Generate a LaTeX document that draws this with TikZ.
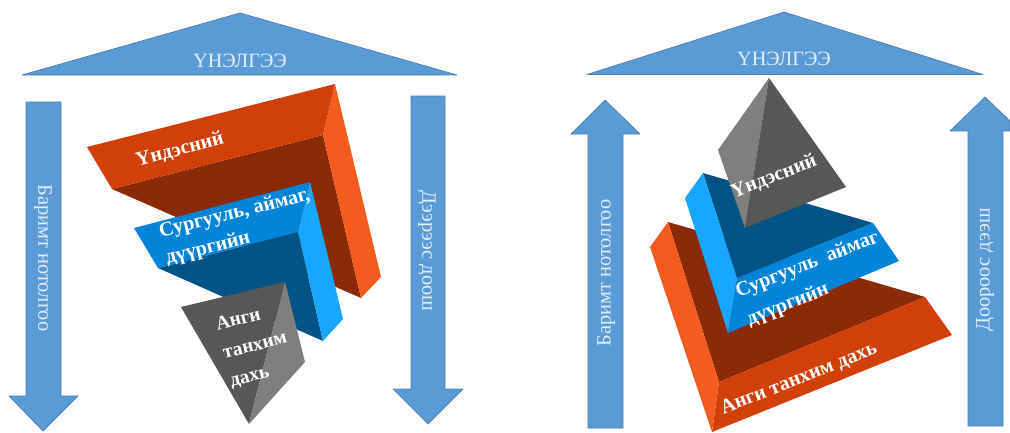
\documentclass[tikz,border=0pt]{standalone}
\usepackage{fontspec}
\setmainfont{Liberation Serif}
\definecolor{arrowblue}{HTML}{5B9BD5}
\definecolor{arrowline}{HTML}{4A7EB0}
\definecolor{arrowtext}{HTML}{E4EEF8}
\definecolor{orfront}{HTML}{D2400A}
\definecolor{orside}{HTML}{F45B1F}
\definecolor{ordark}{HTML}{8B2A06}
\definecolor{blfront}{HTML}{0284D9}
\definecolor{blside}{HTML}{19A6FF}
\definecolor{bldark}{HTML}{025486}
\definecolor{grdark}{HTML}{575757}
\definecolor{grlight}{HTML}{7F7F7F}
\tikzset{
  arrowshape/.style={fill=arrowblue,draw=arrowline,line width=0.7pt,line join=round},
  sidetext/.style={text=arrowtext,font=\fontsize{20.4}{20}\selectfont,inner sep=0pt},
  rooftext/.style={text=arrowtext,font=\fontsize{20.3}{20}\selectfont,inner sep=0pt},
  labeltext/.style={text=white,font=\bfseries\fontsize{20.3}{27}\selectfont,inner sep=0pt,align=left},
}
\begin{document}
\begin{tikzpicture}[x=1pt,y=-1pt]
\useasboundingbox (0,0) rectangle (1010,432);
% ---------- left panel ----------
\draw[arrowshape] (240,13) -- (457,75) -- (22,75) -- cycle;
\draw[arrowshape] (26,102) -- (61,102) -- (61,396) -- (78,396) -- (43,431) -- (9,396) -- (26,396) -- cycle;
\draw[arrowshape] (411,96) -- (445,96) -- (445,389) -- (463,389) -- (428,424) -- (393,389) -- (411,389) -- cycle;
\node[rooftext] (roofL) at (240,61) {ҮНЭЛГЭЭ};
\node[sidetext,rotate=-90] (factL) at (43,258) {Баримт нотолгоо};
\node[sidetext,rotate=-90] (downL) at (427,251) {Дээрээс доош};
% orange
\fill[ordark] (112,189) -- (323,135) -- (361,298) -- cycle;
\fill[orfront] (87,147) -- (335,84) -- (323,135) -- (112,189) -- cycle;
\fill[orside] (335,84) -- (381,277) -- (361,298) -- (323,135) -- cycle;
% blue
\fill[bldark] (158,268) -- (298,232) -- (323,341) -- cycle;
\fill[blfront] (134,228) -- (310,182) -- (298,232) -- (158,268) -- cycle;
\fill[blside] (310,182) -- (343,319) -- (323,341) -- (298,232) -- cycle;
% grey
\fill[grdark] (181,307) -- (285,282) -- (249,424) -- cycle;
\fill[grlight] (285,282) -- (305,362) -- (249,424) -- cycle;
\node[labeltext,rotate=15] (natL) at (180,150) {Үндэсний};
\node[labeltext,rotate=14] (schoolL) at (238,227) {Сургууль, аймаг,\\дүүргийн};
\node[labeltext,rotate=14,font=\bfseries\fontsize{19.5}{29}\selectfont] (classL) at (255,346) {Анги\\танхим\\дахь};
% ---------- right panel ----------
\draw[arrowshape] (784,12) -- (983,74.5) -- (587,74.5) -- cycle;
\draw[arrowshape] (605,100) -- (640,134) -- (623,134) -- (623,428) -- (588,428) -- (588,134) -- (571,134) -- cycle;
\draw[arrowshape] (985,97) -- (1010,121) -- (1010,131) -- (1003,131) -- (1003,426) -- (968,426) -- (968,131) -- (950,131) -- cycle;
\node[rooftext] (roofR) at (784,59) {ҮНЭЛГЭЭ};
\node[sidetext,rotate=90] (factR) at (606,273) {Баримт нотолгоо};
\node[sidetext,rotate=90] (upR) at (985,270) {Доороос дээш};
% orange
\fill[ordark] (668,222) -- (925,297) -- (719,382) -- cycle;
\fill[orfront] (719,382) -- (925,297) -- (952,335) -- (712,432) -- cycle;
\fill[orside] (668,222) -- (719,382) -- (712,432) -- (650,247) -- cycle;
% blue
\fill[bldark] (703,173) -- (873,223) -- (737,278) -- cycle;
\fill[blfront] (737,278) -- (873,223) -- (899,261) -- (728,333) -- cycle;
\fill[blside] (703,173) -- (737,278) -- (728,333) -- (685,198) -- cycle;
% grey
\fill[grlight] (769,78) -- (718,150) -- (745,228) -- cycle;
\fill[grdark] (769,78) -- (846,187) -- (745,228) -- cycle;
\node[labeltext,rotate=21.5] (natR) at (774,177) {Үндэсний};
\node[labeltext,rotate=21.5,font=\bfseries\fontsize{20.3}{30}\selectfont] (schoolR) at (813,279) {Сургууль\ \ аймаг\\дүүргийн};
\node[labeltext,rotate=21.7] (classR) at (799,379) {Анги танхим дахь};
\end{tikzpicture}
\end{document}
